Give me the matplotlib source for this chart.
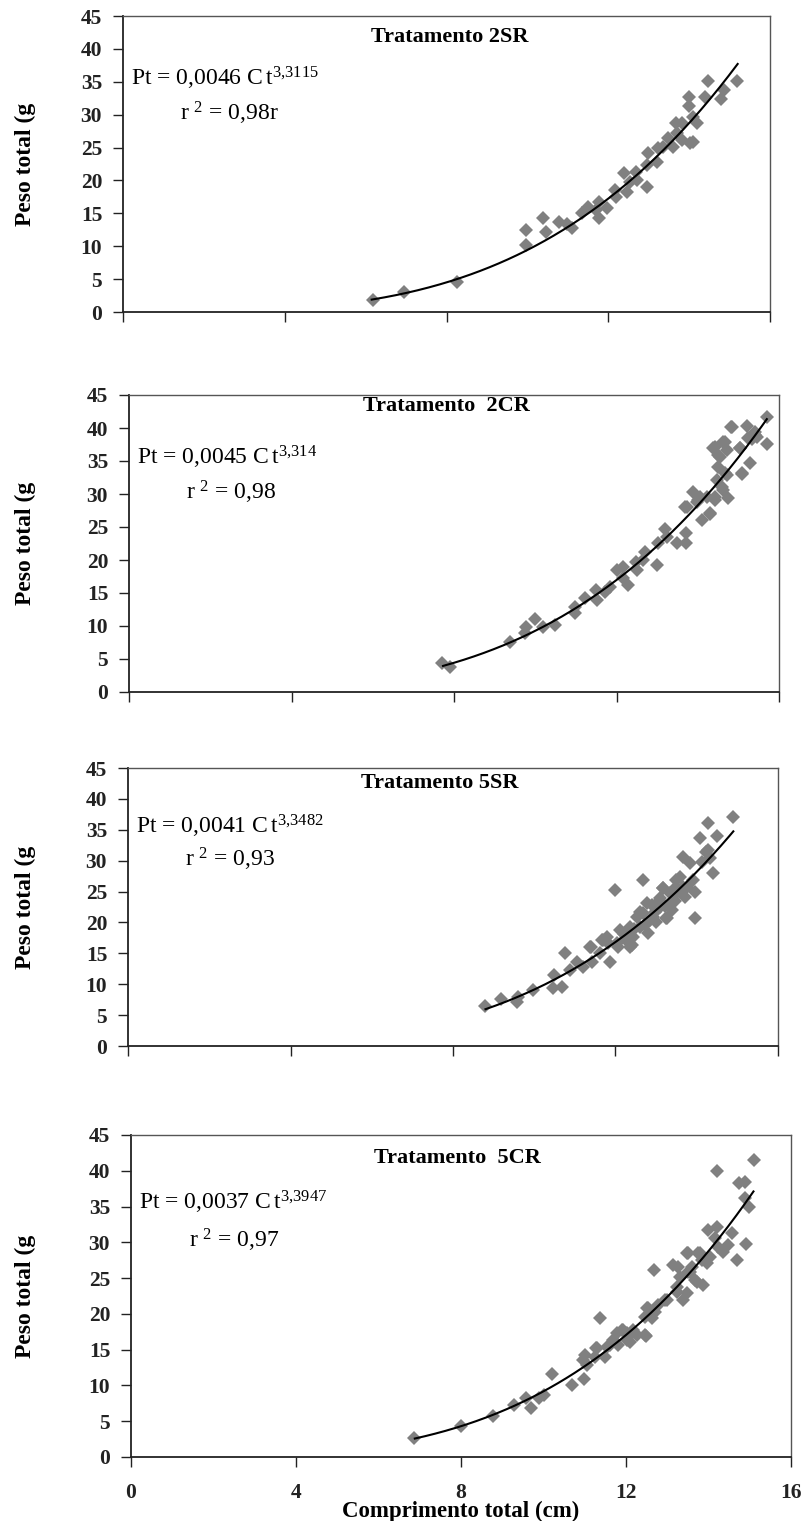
import matplotlib
matplotlib.use("Agg")
import matplotlib.pyplot as plt
import numpy as np

plt.rcParams['font.family'] = ['Liberation Serif', 'DejaVu Serif']
plt.rcParams['mathtext.fontset'] = 'custom'
plt.rcParams['mathtext.rm'] = 'Liberation Serif'
plt.rcParams['mathtext.it'] = 'Liberation Serif'

# treatment names and fitted power curves Pt = a * Ct^b
titles = ["Tratamento 2SR", "Tratamento  2CR", "Tratamento 5SR", "Tratamento  5CR"]
coef_a = [0.0046, 0.0045, 0.0041, 0.0037]
coef_b = [3.3115, 3.314, 3.3482, 3.3947]
eq_a = ["0,0046", "0,0045", "0,0041", "0,0037"]
eq_b = ["3{,}3115", "3{,}314", "3{,}3482", "3{,}3947"]
r2_text = ["0,98r", "0,98", "0,93", "0,97"]
curve_min = [6.15, 7.73, 8.8, 6.88]
curve_max = [15.2, 15.7, 14.9, 15.09]

# observed points (comprimento total, peso total)
x_2sr = [6.18, 6.95, 8.26, 9.97, 9.97, 10.39, 10.46, 10.78, 10.97, 11.1, 11.35, 11.5,
         11.77, 11.77, 11.7, 11.97, 12.17, 12.19, 12.39, 12.46, 12.54, 12.7, 12.69,
         12.96, 12.96, 12.98, 13.2, 13.23, 13.35, 13.48, 13.6, 13.7, 13.67, 13.82,
         13.82, 14.02, 14.1, 14.0, 14.0, 14.1, 14.2, 14.39, 14.47, 14.79, 14.86, 15.18]
y_2sr = [1.8, 3.0, 4.6, 12.5, 10.2, 14.3, 12.1, 13.7, 13.4, 12.7, 15.0, 15.9,
         16.7, 14.3, 15.5, 15.8, 18.5, 17.5, 21.1, 18.2, 19.8, 20.1, 21.3,
         19.0, 22.3, 24.1, 22.8, 24.9, 25.1, 26.4, 25.1, 27.2, 28.7, 28.7,
         26.1, 25.7, 25.8, 31.3, 32.7, 29.7, 28.7, 32.7, 35.1, 32.4, 33.7, 35.1]

x_2cr = [7.70, 7.90, 9.38, 9.75, 9.77, 9.99, 10.19, 10.49, 10.98, 10.98, 11.22, 11.5,
         11.52, 11.72, 11.84, 12.0, 12.16, 12.16, 12.28, 12.5, 12.48, 12.65, 12.7,
         12.99, 13.02, 13.2, 13.24, 13.49, 13.71, 13.71, 13.69, 13.89, 13.98, 14.1,
         14.3, 14.05, 14.42, 14.47, 14.6, 14.75, 14.5, 14.67, 14.42, 14.67, 14.55,
         14.82, 15.04, 15.09, 15.2, 15.24, 15.29, 15.41, 15.45, 15.7, 15.7,
         14.84, 15.41, 15.33, 14.63, 14.38, 14.71, 15.04, 14.51, 15.08, 14.71,
         14.63, 13.73, 14.01, 14.22, 14.42, 14.3]
y_2cr = [4.44, 3.83, 7.6, 8.9, 9.8, 11.0, 9.8, 10.1, 12.9, 12.0, 14.2, 15.5,
         13.9, 15.2, 15.9, 18.5, 18.9, 17.3, 16.2, 18.5, 19.7, 20.0, 21.2,
         19.2, 22.6, 24.7, 23.5, 22.6, 22.6, 24.1, 28.0, 30.3, 28.8, 26.1,
         27.0, 29.6, 29.6, 32.1, 31.1, 29.4, 34.1, 33.2, 37.1, 37.9, 35.6,
         40.2, 37.0, 33.2, 40.3, 38.5, 34.7, 39.4, 38.6, 41.7, 37.6,
         40.2, 38.9, 38.4, 37.9, 36.9, 36.7, 36.9, 35.9, 33.1, 32.9,
         30.6, 28.1, 29.1, 29.6, 29.1, 27.1]

x_5sr = [8.79, 9.17, 9.57, 9.6, 9.97, 10.46, 10.49, 10.68, 10.76, 10.88, 11.05, 11.2,
         11.4, 11.42, 11.62, 11.69, 11.86, 11.82, 11.99, 12.06, 12.11, 12.36, 12.43,
         12.6, 12.68, 12.8, 12.68, 12.93, 13.09, 13.17, 13.25, 13.34, 13.5, 13.59,
         13.71, 13.75, 13.66, 13.83, 13.96, 13.96, 13.91, 14.08, 14.13, 14.28, 14.33,
         14.4, 14.28, 14.5, 14.89,
         11.37, 11.78, 12.36, 12.4, 12.6, 12.77, 12.85, 12.97, 13.1, 13.26, 13.34,
         13.5, 13.66, 13.46, 13.22, 12.73, 12.23, 11.66, 12.03, 12.52, 13.16, 14.24,
         12.9, 13.0, 13.4, 13.55, 12.45, 12.2, 13.05, 13.6]
y_5sr = [6.4, 7.6, 7.2, 7.9, 9.0, 9.4, 11.5, 9.6, 15.0, 12.3, 13.6, 12.8,
         16.0, 13.6, 15.0, 17.2, 13.6, 16.7, 25.3, 16.0, 18.8, 16.0, 17.6,
         19.3, 21.5, 18.3, 26.9, 20.9, 22.5, 25.6, 20.7, 23.1, 25.7, 27.4,
         24.1, 25.7, 30.6, 29.6, 20.7, 25.0, 26.9, 33.7, 29.8, 31.7, 30.4,
         28.0, 36.1, 34.0, 37.1,
         16.1, 17.7, 19.3, 16.3, 21.7, 23.1, 20.4, 21.7, 24.0, 20.7, 24.7,
         26.9, 25.8, 23.4, 22.6, 19.6, 17.4, 17.2, 16.6, 20.9, 25.6, 31.4,
         22.9, 20.1, 22.0, 25.1, 18.9, 18.2, 23.3, 24.9]

x_5cr = [6.86, 7.99, 8.78, 9.28, 9.58, 9.69, 9.89, 10.01, 10.2, 10.68, 10.98, 10.96,
         11.0, 11.05, 11.27, 11.38, 11.49, 11.53, 11.69, 11.77, 11.81, 11.9, 12.02,
         12.1, 12.17, 12.27, 12.48, 12.5, 12.62, 12.7, 12.78, 12.68, 12.99, 13.23,
         13.14, 13.26, 13.31, 13.39, 13.47, 13.47, 13.5, 13.59, 13.67, 13.75, 13.87,
         13.84, 13.96, 13.99, 14.04, 14.2, 14.2, 14.16, 14.23, 14.35, 14.47, 14.56,
         14.69, 14.74, 14.88, 14.88, 14.91, 14.98, 15.1,
         13.51, 13.79, 13.55, 13.71, 13.23, 12.95, 12.54, 12.66, 12.46, 12.18,
         11.93, 12.02, 12.46, 11.61, 11.29, 11.25]
y_5cr = [2.6, 4.3, 5.7, 7.3, 8.2, 6.9, 8.2, 8.7, 11.6, 10.1, 10.9, 13.6,
         14.3, 12.9, 15.2, 19.4, 14.0, 15.4, 16.4, 17.3, 15.7, 17.7, 17.3,
         16.1, 17.5, 17.0, 16.9, 20.8, 19.4, 20.3, 21.2, 26.1, 21.9, 23.8,
         26.8, 26.6, 25.2, 21.9, 22.9, 28.5, 25.9, 26.6, 24.7, 28.5, 24.0,
         27.5, 27.1, 31.7, 28.0, 39.9, 32.2, 30.6, 29.3, 28.6, 29.6, 31.3,
         27.5, 38.3, 38.4, 36.2, 29.8, 34.9, 41.5,
         28.5, 28.5, 25.9, 24.5, 23.1, 21.9, 20.8, 20.1, 19.6, 17.7,
         17.7, 16.3, 17.0, 15.7, 15.2, 14.0]

xs = [x_2sr, x_2cr, x_5sr, x_5cr]
ys = [y_2sr, y_2cr, y_5sr, y_5cr]

W, H = 806, 1521
# axes boxes in pixels: left, right, top, bottom
boxes = [(123, 770, 16, 312), (129, 779, 395, 692), (128, 778, 768, 1046), (131, 791, 1135, 1457)]
title_x = [0.505, 0.488, 0.48, 0.494]
title_y = [0.93, 0.962, 0.946, 0.93]

fig = plt.figure(figsize=(W / 100, H / 100), dpi=100)

for i in range(4):
    l, r, t, b = boxes[i]
    ax = fig.add_axes([l / W, 1 - b / H, (r - l) / W, (b - t) / H])
    ax.plot(xs[i], ys[i], linestyle='none', marker='D', markersize=7,
            color='#808080', markeredgewidth=0)
    cx = np.linspace(curve_min[i], curve_max[i], 200)
    ax.plot(cx, coef_a[i] * cx ** coef_b[i], color='black', lw=1.5)

    ax.set_xlim(0, 16)
    ax.set_ylim(0, 45)
    ax.set_xticks([0, 4, 8, 12, 16])
    ax.set_yticks(range(0, 46, 5))
    ax.tick_params(direction='out', length=7, width=1, colors='#222222')
    ax.tick_params(axis='y', labelsize=15.5, pad=8)
    for lab in ax.get_yticklabels():
        lab.set_fontweight('bold')
    if i == 3:
        ax.tick_params(axis='x', labelsize=15.5, pad=12)
        for lab in ax.get_xticklabels():
            lab.set_fontweight('bold')
    else:
        ax.set_xticklabels([])

    for s in ['left', 'bottom']:
        ax.spines[s].set_color('#222222')
        ax.spines[s].set_linewidth(1.3)
    for s in ['top', 'right']:
        ax.spines[s].set_color('#555555')
        ax.spines[s].set_linewidth(1.0)

    ax.text(title_x[i], title_y[i], titles[i], transform=ax.transAxes,
            ha='center', va='center', fontsize=16, fontweight='bold')
    ax.text(0.012, 0.79, "Pt = " + eq_a[i] + " C$\\,$t$^{" + eq_b[i] + "}$",
            transform=ax.transAxes, ha='left', va='center', fontsize=17)
    ax.text(0.088, 0.672, "r $^{2}$ = " + r2_text[i],
            transform=ax.transAxes, ha='left', va='center', fontsize=17)

    fig.text(25 / W, 1 - (t + b) / 2 / H, "Peso total (g", rotation=90,
             ha='center', va='center', fontsize=17, fontweight='bold')

fig.text(461 / W, 1 - 1511 / H, "Comprimento total (cm)", ha='center', va='center',
         fontsize=16.5, fontweight='bold')

fig.savefig("out.png", dpi=100)
